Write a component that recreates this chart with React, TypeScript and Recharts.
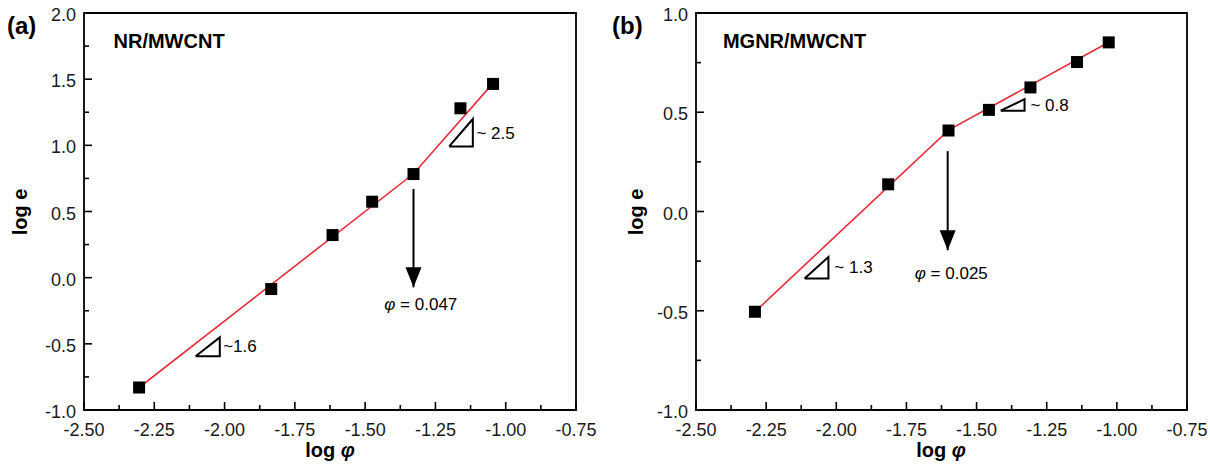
import React from 'react';
import {
  ComposedChart,
  Line,
  Scatter,
  XAxis,
  YAxis,
  ReferenceArea,
  ReferenceDot,
} from 'recharts';

// measured points, log phi vs log e
const logPhiA = [-2.304, -1.834, -1.616, -1.475, -1.328, -1.161, -1.045];
const logEA = [-0.83, -0.086, 0.322, 0.574, 0.783, 1.28, 1.464];
const logPhiB = [-2.29, -1.815, -1.6, -1.456, -1.308, -1.142, -1.029];
const logEB = [-0.505, 0.137, 0.408, 0.512, 0.625, 0.753, 0.852];

// two-slope fits (x, y pairs)
const fitA = [[-2.304, -0.83], [-1.328, 0.785], [-1.045, 1.47]];
const fitB = [[-2.29, -0.505], [-1.6, 0.41], [-1.029, 0.853]];

// slope triangles
const triA1 = [[-2.103, -0.594], [-2.017, -0.594], [-2.017, -0.451], [-2.103, -0.594]];
const triA2 = [[-1.201, 0.992], [-1.117, 0.992], [-1.117, 1.199], [-1.201, 0.992]];
const triB1 = [[-2.113, -0.338], [-2.028, -0.338], [-2.028, -0.229], [-2.113, -0.338]];
const triB2 = [[-1.414, 0.508], [-1.329, 0.508], [-1.329, 0.566], [-1.414, 0.508]];

// arrows: [x, start y, tip y]
const arrowA = [-1.328, 0.67, -0.073];
const arrowB = [-1.603, 0.304, -0.195];

const xTicks = [-2.5, -2.375, -2.25, -2.125, -2.0, -1.875, -1.75, -1.625, -1.5, -1.375, -1.25, -1.125, -1.0, -0.875, -0.75];
const yTicksA = [-1.0, -0.75, -0.5, -0.25, 0, 0.25, 0.5, 0.75, 1.0, 1.25, 1.5, 1.75, 2.0];
const yTicksB = [-1.0, -0.75, -0.5, -0.25, 0, 0.25, 0.5, 0.75, 1.0];

const FONT = '"Liberation Sans", Arial, Helvetica, sans-serif';
const RED = '#e62e3a';

const pts = (xs: number[], ys: number[]) => xs.map((x, i) => ({ x, y: ys[i] }));
const pairs = (arr: number[][]) => arr.map(([x, y]) => ({ x, y }));

const XTick = (props: any) => {
  const { x, y, payload } = props;
  const major = Math.round((payload.value + 2.5) / 0.125) % 2 === 0;
  return (
    <g>
      <line x1={x} x2={x} y1={y} y2={y - (major ? 8 : 5)} stroke="#000" strokeWidth={1.6} />
      {major && (
        <text x={x} y={y + 26} textAnchor="middle" fontSize={18} fontFamily={FONT} fill="#1a1a1a">
          {payload.value.toFixed(2)}
        </text>
      )}
    </g>
  );
};

const YTick = (props: any) => {
  const { x, y, payload } = props;
  const major = Math.round((payload.value + 1) / 0.25) % 2 === 0;
  return (
    <g>
      <line x1={x} x2={x + (major ? 8 : 5)} y1={y} y2={y} stroke="#000" strokeWidth={1.6} />
      {major && (
        <text x={x - 8} y={y + 8} textAnchor="end" fontSize={18} fontFamily={FONT} fill="#1a1a1a">
          {payload.value.toFixed(1)}
        </text>
      )}
    </g>
  );
};

const square = (p: any) => <rect x={p.cx - 6} y={p.cy - 6} width={12} height={12} fill="#000" />;
const arrowHead = (p: any) => (
  <polygon points={`${p.cx},${p.cy} ${p.cx - 8},${p.cy - 20} ${p.cx + 8},${p.cy - 20}`} fill="#000" />
);

const label = (text: React.ReactNode, anchor: string, size: number) => (p: any) => (
  <text
    x={p.cx}
    y={p.cy}
    textAnchor={anchor as any}
    dominantBaseline="central"
    fontSize={size}
    fontFamily={FONT}
    fill="#000"
  >
    {text}
  </text>
);

const phiText = (v: string) => (
  <>
    <tspan fontStyle="italic">φ</tspan> = {v}
  </>
);

interface PanelProps {
  tag: string;
  xs: number[];
  ys: number[];
  fit: number[][];
  tris: number[][][];
  arrow: number[];
  yTicks: number[];
  notes: { x: number; y: number; text: React.ReactNode; anchor: string }[];
  marginLeft: number;
  marginRight: number;
  yTitleX: number;
  xTitleX: number;
}

function Panel(p: PanelProps) {
  const yMin = p.yTicks[0];
  const yMax = p.yTicks[p.yTicks.length - 1];
  const yMid = 212;
  return (
    <ComposedChart
      width={605}
      height={466}
      margin={{ top: 13, right: p.marginRight, bottom: 0, left: p.marginLeft }}
    >
      <XAxis
        type="number"
        dataKey="x"
        domain={[-2.5, -0.75]}
        ticks={xTicks}
        interval={0}
        height={56}
        tickSize={0}
        tickMargin={0}
        tickLine={false}
        axisLine={false}
        tick={<XTick />}
        allowDataOverflow
      />
      <YAxis
        type="number"
        dataKey="y"
        domain={[yMin, yMax]}
        ticks={p.yTicks}
        interval={0}
        width={60}
        tickSize={0}
        tickMargin={0}
        tickLine={false}
        axisLine={false}
        tick={<YTick />}
        allowDataOverflow
      />
      <ReferenceArea x1={-2.5} x2={-0.75} y1={yMin} y2={yMax} fill="none" stroke="#000" strokeWidth={1.8} />
      {p.tris.map((t, i) => (
        <Line
          key={i}
          data={pairs(t)}
          dataKey="y"
          type="linear"
          stroke="#000"
          strokeWidth={2}
          dot={false}
          activeDot={false}
          isAnimationActive={false}
        />
      ))}
      <Line
        data={[{ x: p.arrow[0], y: p.arrow[1] }, { x: p.arrow[0], y: p.arrow[2] }]}
        dataKey="y"
        type="linear"
        stroke="#000"
        strokeWidth={2}
        dot={false}
        activeDot={false}
        isAnimationActive={false}
      />
      <Scatter data={[{ x: p.arrow[0], y: p.arrow[2] }]} dataKey="y" shape={arrowHead} isAnimationActive={false} />
      <Scatter data={pts(p.xs, p.ys)} dataKey="y" shape={square} isAnimationActive={false} />
      <Line
        data={pairs(p.fit)}
        dataKey="y"
        type="linear"
        stroke={RED}
        strokeWidth={1.6}
        dot={false}
        activeDot={false}
        isAnimationActive={false}
      />
      {p.notes.map((n, i) => (
        <ReferenceDot key={i} x={n.x} y={n.y} r={0} shape={label(n.text, n.anchor, 17)} />
      ))}
      <text x={7} y={34} fontSize={24} fontWeight="bold" fontFamily={FONT} fill="#000">
        {p.tag}
      </text>
      <text
        x={p.yTitleX}
        y={yMid}
        transform={`rotate(-90, ${p.yTitleX}, ${yMid})`}
        textAnchor="middle"
        dominantBaseline="central"
        fontSize={20}
        fontWeight="bold"
        fontFamily={FONT}
        fill="#000"
      >
        log e
      </text>
      <text x={p.xTitleX} y={457} textAnchor="middle" fontSize={20} fontWeight="bold" fontFamily={FONT} fill="#000">
        log <tspan fontStyle="italic">φ</tspan>
      </text>
    </ComposedChart>
  );
}

export default function App() {
  return (
    <div style={{ position: 'absolute', left: 0, top: 0, width: 1210, height: 466, background: '#fff' }}>
      <div style={{ position: 'absolute', left: 0, top: 0 }}>
        <Panel
          tag="(a)"
          xs={logPhiA}
          ys={logEA}
          fit={fitA}
          tris={[triA1, triA2]}
          arrow={arrowA}
          yTicks={yTicksA}
          marginLeft={24}
          marginRight={29}
          yTitleX={20}
          xTitleX={330}
          notes={[
            { x: -2.395, y: 1.788, text: <tspan fontWeight="bold" fontSize={20}>NR/MWCNT</tspan>, anchor: 'start' },
            { x: -2.005, y: -0.519, text: '~1.6', anchor: 'start' },
            { x: -1.104, y: 1.086, text: '~ 2.5', anchor: 'start' },
            { x: -1.302, y: -0.199, text: phiText('0.047'), anchor: 'middle' },
          ]}
        />
      </div>
      <div style={{ position: 'absolute', left: 605, top: 0 }}>
        <Panel
          tag="(b)"
          xs={logPhiB}
          ys={logEB}
          fit={fitB}
          tris={[triB1, triB2]}
          arrow={arrowB}
          yTicks={yTicksB}
          marginLeft={31}
          marginRight={23}
          yTitleX={31}
          xTitleX={336}
          notes={[
            { x: -2.404, y: 0.859, text: <tspan fontWeight="bold" fontSize={20}>MGNR/MWCNT</tspan>, anchor: 'start' },
            { x: -2.007, y: -0.283, text: '~ 1.3', anchor: 'start' },
            { x: -1.308, y: 0.535, text: '~ 0.8', anchor: 'start' },
            { x: -1.59, y: -0.312, text: phiText('0.025'), anchor: 'middle' },
          ]}
        />
      </div>
    </div>
  );
}
